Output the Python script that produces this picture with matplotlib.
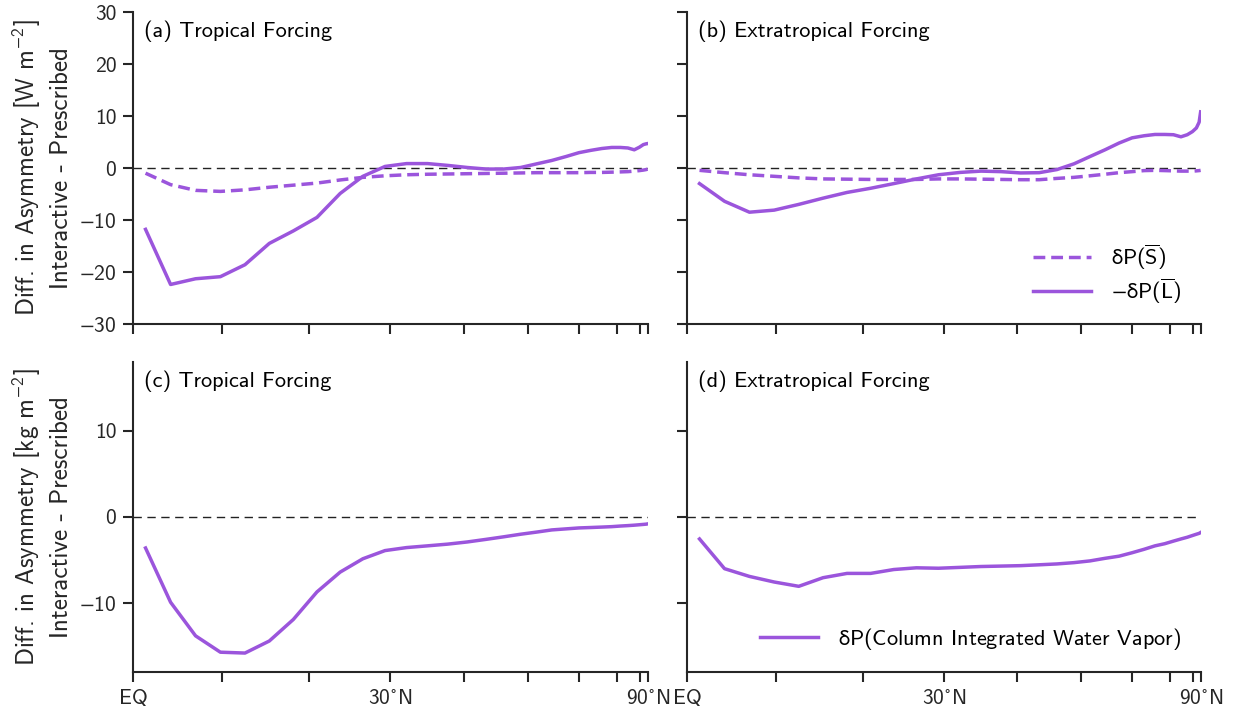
import numpy as np
import matplotlib
matplotlib.use("Agg")
import matplotlib.pyplot as plt

plt.rcParams['font.family'] = ['cmss10', 'DejaVu Sans']
plt.rcParams['mathtext.fontset'] = 'custom'
plt.rcParams['mathtext.rm'] = 'cmss10'
plt.rcParams['mathtext.sf'] = 'cmss10'
plt.rcParams['mathtext.it'] = 'cmss10'
plt.rcParams['mathtext.fallback'] = 'stixsans'
plt.rcParams['axes.unicode_minus'] = False

# Gaussian latitudes (deg N)
lats = [1.3953, 4.1859, 6.9766, 9.7669, 12.5573, 15.3476, 18.1379, 20.9282,
        23.7185, 26.5088, 29.2990, 32.0893, 34.8796, 37.6699, 40.4602, 43.2505,
        46.0408, 48.8311, 51.6213, 54.4116, 57.2019, 59.9922, 62.7824, 65.5727,
        68.3630, 71.1533, 73.9435, 76.7338, 79.5240, 82.3143, 85.0965, 87.8638]

# (a) Tropical forcing, energy terms [W m-2]
a_S = [-1.0, -3.2, -4.3, -4.5, -4.2, -3.7, -3.3, -2.9, -2.3, -1.8, -1.5, -1.3,
       -1.2, -1.15, -1.1, -1.05, -1.0, -0.95, -0.9, -0.9, -0.9, -0.9, -0.85, -0.85,
       -0.8, -0.75, -0.7, -0.6, -0.5, -0.4, -0.3, -0.2]
a_L = [-11.8, -22.4, -21.3, -20.9, -18.6, -14.5, -12.1, -9.5, -4.9, -1.6, 0.3, 0.85,
       0.85, 0.5, 0.1, -0.2, -0.2, 0.1, 0.8, 1.45, 2.2, 2.95, 3.4, 3.75,
       3.95, 3.95, 3.85, 3.5, 4.0, 4.5, 4.65, 4.7]
# (b) Extratropical forcing, energy terms [W m-2]
b_S = [-0.45, -0.9, -1.3, -1.6, -1.9, -2.1, -2.15, -2.2, -2.2, -2.2, -2.1, -2.1,
       -2.15, -2.2, -2.25, -2.25, -2.0, -1.8, -1.5, -1.2, -0.9, -0.7, -0.5, -0.45,
       -0.5, -0.55, -0.6, -0.6, -0.6, -0.55, -0.5, -0.45]
b_L = [-3.0, -6.4, -8.5, -8.1, -7.0, -5.8, -4.7, -3.9, -3.0, -2.1, -1.3, -0.85,
       -0.6, -0.7, -0.95, -0.9, -0.3, 0.8, 2.2, 3.5, 4.8, 5.8, 6.2, 6.45,
       6.45, 6.4, 6.0, 6.4, 7.0, 7.7, 8.8, 10.8]
# (c) Tropical forcing, column water vapor [kg m-2]
c_W = [-3.6, -9.9, -13.8, -15.7, -15.8, -14.4, -11.9, -8.7, -6.4, -4.85, -3.9, -3.55,
       -3.35, -3.15, -2.9, -2.6, -2.3, -2.0, -1.75, -1.5, -1.38, -1.27, -1.22, -1.17,
       -1.12, -1.05, -1.0, -0.95, -0.9, -0.86, -0.83, -0.8]
# (d) Extratropical forcing, column water vapor [kg m-2]
d_W = [-2.55, -6.0, -6.9, -7.55, -8.05, -7.05, -6.55, -6.55, -6.1, -5.9, -5.95, -5.85,
       -5.75, -5.7, -5.65, -5.55, -5.45, -5.3, -5.1, -4.8, -4.55, -4.15, -3.75, -3.35,
       -3.1, -2.8, -2.55, -2.35, -2.15, -2.0, -1.9, -1.8]

titles = ['(a) Tropical Forcing', '(b) Extratropical Forcing',
          '(c) Tropical Forcing', '(d) Extratropical Forcing']
major_lats = [0, 30, 90]
major_labels = ['EQ', r'30$^{\circ}$N', r'90$^{\circ}$N']
minor_lats = [10, 20, 40, 50, 60, 70, 80]
top_yticks = [-30, -20, -10, 0, 10, 20, 30]
bot_yticks = [-10, 0, 10]

color = '#9b55dc'
ink = '#262626'

def ylab(v):
    return r'$-$%d' % abs(v) if v < 0 else '%d' % v

fig = plt.figure(figsize=(12.36, 7.2), dpi=100)
W, H = 1236, 720
def box(x0, x1, y0, y1):
    return [x0 / W, 1 - y1 / H, (x1 - x0) / W, (y1 - y0) / H]

axa = fig.add_axes(box(133, 648, 12, 324))
axb = fig.add_axes(box(687, 1201, 12, 324))
axc = fig.add_axes(box(133, 648, 362, 672))
axd = fig.add_axes(box(687, 1201, 362, 672))
axes = [axa, axb, axc, axd]

s = np.sin(np.deg2rad(lats))

for ax in axes:
    ax.axhline(0, color='#222222', lw=1.0, dashes=(6, 4), zorder=1)

dash = (3.4, 1.7)
axa.plot(s, a_S, color=color, lw=2.5, dashes=dash)
axa.plot(s, a_L, color=color, lw=2.5)
axb.plot(s, b_S, color=color, lw=2.5, dashes=dash,
         label=r'$\mathrm{\delta}$P($\overline{\mathrm{S}}$)')
axb.plot(s, b_L, color=color, lw=2.5,
         label=r'$-\mathrm{\delta}$P($\overline{\mathrm{L}}$)')
axc.plot(s, c_W, color=color, lw=2.5)
axd.plot(s, d_W, color=color, lw=2.5,
         label=r'$\mathrm{\delta}$P(Column Integrated Water Vapor)')

for i, ax in enumerate(axes):
    ax.set_xlim(0, 1)
    for sp in ['top', 'right']:
        ax.spines[sp].set_visible(False)
    for sp in ['left', 'bottom']:
        ax.spines[sp].set_linewidth(1.5)
        ax.spines[sp].set_color(ink)
    ax.set_xticks(np.sin(np.deg2rad(major_lats)))
    ax.set_xticks(np.sin(np.deg2rad(minor_lats)), minor=True)
    ax.tick_params(which='both', direction='out', length=7, width=1.5,
                   color=ink, labelcolor=ink, labelsize=15.5, pad=5)
    if i < 2:
        ax.set_ylim(-30, 30)
        ax.set_yticks(top_yticks)
        ax.set_yticklabels([ylab(v) for v in top_yticks])
        ax.set_xticklabels([])
    else:
        ax.set_ylim(-18, 18)
        ax.set_yticks(bot_yticks)
        ax.set_yticklabels([ylab(v) for v in bot_yticks])
        ax.set_xticklabels(major_labels)
    if i in (1, 3):
        ax.set_yticklabels([])
    ax.text(0.022, 0.972, titles[i], transform=ax.transAxes, ha='left', va='top',
            fontsize=16, color='black')

axa.set_ylabel('Diff. in Asymmetry [W m$^{-2}$]\nInteractive - Prescribed',
               fontsize=18, color=ink, labelpad=4, linespacing=1.4)
axc.set_ylabel('Diff. in Asymmetry [kg m$^{-2}$]\nInteractive - Prescribed',
               fontsize=18, color=ink, labelpad=4, linespacing=1.4)

axb.legend(loc='lower right', frameon=False, fontsize=16, handlelength=2.6,
           labelspacing=0.2, handletextpad=0.9, bbox_to_anchor=(1.0, -0.005))
axd.legend(loc='lower right', frameon=False, fontsize=16, handlelength=2.6,
           handletextpad=0.9, bbox_to_anchor=(1.0, 0.0))

fig.savefig('out.png', dpi=100)
